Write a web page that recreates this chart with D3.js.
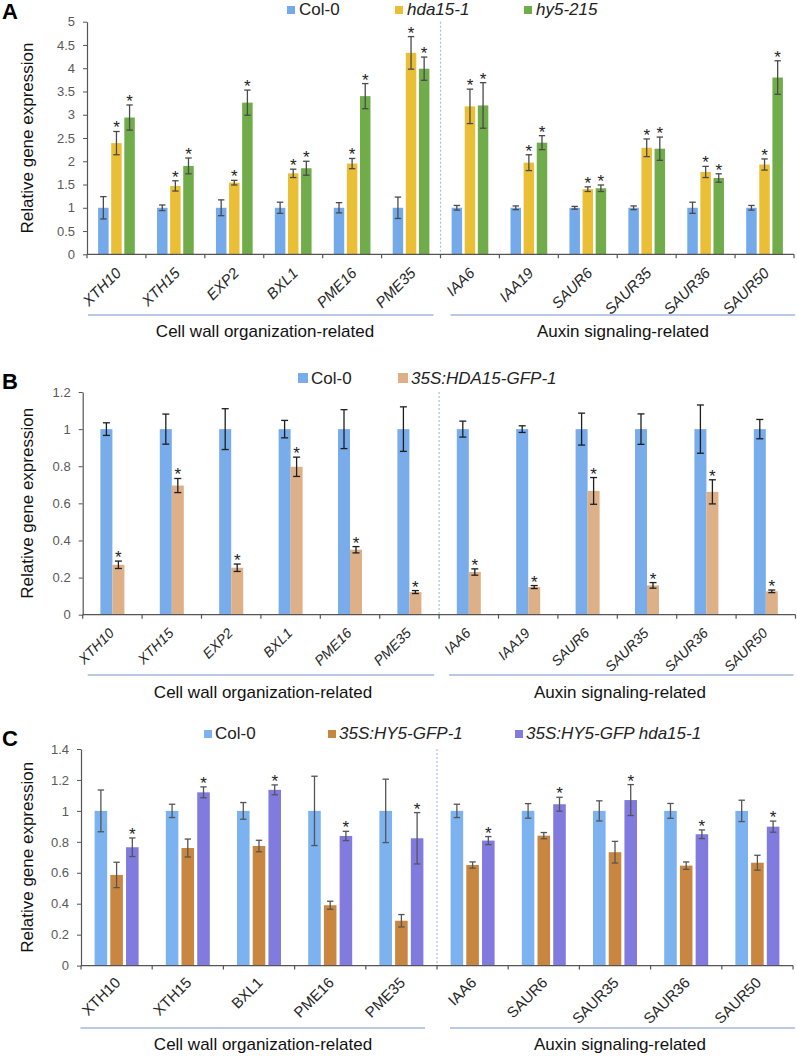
<!DOCTYPE html>
<html>
<head>
<meta charset="utf-8">
<script src="https://cdn.jsdelivr.net/npm/d3@7"></script>
<style>
  body { margin: 0; background: #fff; }
  svg { font-family: "Liberation Sans", Arial, sans-serif; display: block; }
</style>
</head>
<body>
<svg id="drawing_region"></svg>
<script>
// genes (x categories)
const genesAB = ['XTH10','XTH15','EXP2','BXL1','PME16','PME35','IAA6','IAA19','SAUR6','SAUR35','SAUR36','SAUR50'];
const genesC  = ['XTH10','XTH15','BXL1','PME16','PME35','IAA6','SAUR6','SAUR35','SAUR36','SAUR50'];
const groupNames = ['Cell wall organization-related', 'Auxin signaling-related'];

// panel A
const colA      = [1,1,1,1,1,1,1,1,1,1,1,1];
const colA_err  = [0.24,0.06,0.17,0.12,0.11,0.23,0.05,0.04,0.03,0.04,0.12,0.05];
const hda       = [2.39,1.47,1.54,1.74,1.95,4.33,3.18,1.97,1.40,2.29,1.77,1.93];
const hda_err   = [0.25,0.11,0.05,0.09,0.11,0.35,0.37,0.17,0.05,0.19,0.12,0.12];
const hy5       = [2.94,1.90,3.26,1.85,3.40,3.99,3.20,2.40,1.42,2.27,1.64,3.80];
const hy5_err   = [0.27,0.17,0.27,0.15,0.27,0.25,0.49,0.15,0.07,0.25,0.09,0.36];
const ticksA    = [0,0.5,1,1.5,2,2.5,3,3.5,4,4.5,5];

// panel B
const colB      = [1,1,1,1,1,1,1,1,1,1,1,1];
const colB_err  = [0.034,0.081,0.11,0.047,0.105,0.12,0.043,0.018,0.086,0.082,0.13,0.052];
const hdaOE     = [0.269,0.696,0.253,0.797,0.35,0.122,0.23,0.149,0.667,0.158,0.662,0.126];
const hdaOE_err = [0.02,0.038,0.02,0.052,0.017,0.008,0.017,0.008,0.072,0.015,0.065,0.007];
const ticksB    = [0,0.2,0.4,0.6,0.8,1,1.2];

// panel C
const colC       = [1,1,1,1,1,1,1,1,1,1];
const colC_err   = [0.135,0.043,0.054,0.224,0.205,0.043,0.047,0.065,0.048,0.069];
const hy5OE      = [0.586,0.76,0.773,0.39,0.29,0.65,0.84,0.733,0.646,0.665];
const hy5OE_err  = [0.082,0.058,0.037,0.026,0.04,0.02,0.02,0.07,0.024,0.048];
const hy5hda     = [0.765,1.12,1.136,0.838,0.823,0.808,1.043,1.07,0.849,0.898];
const hy5hda_err = [0.06,0.035,0.032,0.03,0.166,0.026,0.045,0.1,0.028,0.036];
const ticksC     = [0,0.2,0.4,0.6,0.8,1,1.2,1.4];

const svg = d3.select('#drawing_region')
    .attr('width', 797)
    .attr('height', 1056);

class GroupedBarChart {

    constructor( config, data ) {
        this.config = config;
        this.data = data;
        this.init();
    }

    init() {
        let self = this;
        let c = self.config;

        self.chart = svg.append('g');

        self.xscale = d3.scaleBand()
            .domain(self.data.genes)
            .range([c.left, c.right])
            .padding(0);

        self.inner = d3.scaleBand()
            .domain(self.data.series.map(s => s.name))
            .range([0, c.groupWidth])
            .paddingInner(c.innerPad);

        self.offset = (self.xscale.bandwidth() - c.groupWidth) / 2;

        self.yscale = d3.scaleLinear()
            .domain([0, d3.max(self.data.ticks)])
            .range([c.bottom, c.top]);

        self.yaxis = d3.axisLeft(self.yscale)
            .tickValues(self.data.ticks)
            .tickFormat(d => String(+d.toFixed(1)))
            .tickSize(4)
            .tickSizeOuter(0)
            .tickPadding(8);
    }

    render() {
        let self = this;
        let c = self.config;
        let x = self.xscale, y = self.yscale;
        let bw = self.inner.bandwidth();

        // divider
        let xd = x(self.data.genes[c.split]);
        self.chart.append('line')
            .attr('x1', xd).attr('x2', xd)
            .attr('y1', c.top).attr('y2', c.bottom)
            .attr('stroke', '#a9bfdf')
            .attr('stroke-width', 1.2)
            .attr('stroke-dasharray', '2,2');

        // bars
        self.data.series.forEach(s => {
            self.chart.selectAll(null)
                .data(s.values)
                .enter()
                .append('rect')
                .attr('x', (d, i) => x(self.data.genes[i]) + self.offset + self.inner(s.name))
                .attr('y', d => y(d))
                .attr('width', bw)
                .attr('height', d => y(0) - y(d))
                .attr('fill', s.color);
        });

        // error bars and stars
        self.data.series.forEach(s => {
            s.values.forEach((v, i) => {
                let cx = x(self.data.genes[i]) + self.offset + self.inner(s.name) + bw / 2;
                let e = s.errors[i];
                let g = self.chart.append('g')
                    .attr('stroke', c.errColor)
                    .attr('stroke-width', 1.3);
                g.append('line').attr('x1', cx).attr('x2', cx).attr('y1', y(v - e)).attr('y2', y(v + e));
                g.append('line').attr('x1', cx - c.cap).attr('x2', cx + c.cap).attr('y1', y(v - e)).attr('y2', y(v - e));
                g.append('line').attr('x1', cx - c.cap).attr('x2', cx + c.cap).attr('y1', y(v + e)).attr('y2', y(v + e));
                if (s.star) {
                    self.chart.append('text')
                        .attr('x', cx)
                        .attr('y', y(v + e) + 2)
                        .attr('text-anchor', 'middle')
                        .attr('font-size', '17px')
                        .attr('fill', '#222')
                        .text('*');
                }
            });
        });

        // y axis
        let ya = self.chart.append('g')
            .attr('transform', `translate(${c.left}, 0)`)
            .call(self.yaxis);
        ya.select('.domain').attr('stroke', '#555').attr('stroke-width', 1.2);
        ya.selectAll('.tick line').attr('stroke', '#555');
        ya.selectAll('.tick text')
            .attr('font-size', '13px')
            .attr('font-family', '"Liberation Sans", Arial, sans-serif')
            .attr('fill', '#595959');

        // x axis line and boundary ticks
        self.chart.append('line')
            .attr('x1', c.left).attr('x2', c.right)
            .attr('y1', c.bottom).attr('y2', c.bottom)
            .attr('stroke', '#555').attr('stroke-width', 1.2);
        let bounds = self.data.genes.map(g => x(g)).concat([c.right]);
        self.chart.selectAll(null)
            .data(bounds)
            .enter()
            .append('line')
            .attr('x1', d => d).attr('x2', d => d)
            .attr('y1', c.bottom).attr('y2', c.bottom + 4)
            .attr('stroke', '#555').attr('stroke-width', 1.2);

        // x labels
        self.chart.selectAll(null)
            .data(self.data.genes)
            .enter()
            .append('text')
            .attr('transform', d => `translate(${x(d) + x.bandwidth() / 2 + c.labelDx}, ${c.bottom + c.labelDy}) rotate(-45)`)
            .attr('text-anchor', 'end')
            .attr('font-size', c.labelSize + 'px')
            .attr('font-style', c.labelItalic ? 'italic' : 'normal')
            .attr('fill', '#262626')
            .text(d => d);

        // group lines and names
        let xEnd = x.range()[1];
        let lines = [
            [c.left + c.gl[0], xd - c.gl[1]],
            [xd + c.gl[2], xEnd + c.gl[3]]
        ];
        lines.forEach((l, i) => {
            self.chart.append('line')
                .attr('x1', l[0]).attr('x2', l[1])
                .attr('y1', c.groupY).attr('y2', c.groupY)
                .attr('stroke', '#a3b9dc').attr('stroke-width', 1.6);
            self.chart.append('text')
                .attr('x', c.groupTextX[i])
                .attr('y', c.groupTextY)
                .attr('text-anchor', 'middle')
                .attr('font-size', '17px')
                .attr('fill', '#111')
                .text(groupNames[i]);
        });

        // y label
        self.chart.append('text')
            .attr('transform', `translate(33, ${(c.top + c.bottom) / 2}) rotate(-90)`)
            .attr('text-anchor', 'middle')
            .attr('font-size', '17px')
            .attr('fill', '#111')
            .text('Relative gene expression');

        // panel letter
        self.chart.append('text')
            .attr('x', 2)
            .attr('y', c.letterY)
            .attr('font-size', '22px')
            .attr('font-weight', 'bold')
            .attr('fill', '#000')
            .text(c.letter);

        // legend
        self.data.series.forEach((s, i) => {
            self.chart.append('rect')
                .attr('x', c.legendX[i])
                .attr('y', c.legendY - c.legendSq - 1)
                .attr('width', c.legendSq)
                .attr('height', c.legendSq)
                .attr('fill', s.color);
            self.chart.append('text')
                .attr('x', c.legendX[i] + c.legendSq + c.legendGap)
                .attr('y', c.legendY)
                .attr('font-size', '17px')
                .attr('font-style', s.italic ? 'italic' : 'normal')
                .attr('fill', '#222')
                .text(s.name);
        });
    }
}

let chartA = new GroupedBarChart({
    letter: 'A', letterY: 19,
    left: 87, right: 794, top: 21.7, bottom: 254.3,
    groupWidth: 36.7, innerPad: 0.2, split: 6,
    cap: 3.2, errColor: '#4a4a4a',
    labelDx: 5.6, labelDy: 19.7, labelSize: 15, labelItalic: true,
    gl: [1, 7, 10, 1], groupY: 315, groupTextY: 337, groupTextX: [265, 623],
    legendX: [287, 395, 524], legendY: 15, legendSq: 8, legendGap: 4
}, {
    genes: genesAB, ticks: ticksA,
    series: [
        { name: 'Col-0', italic: false, color: '#74a9ea', values: colA, errors: colA_err, star: false },
        { name: 'hda15-1', italic: true, color: '#ebbf35', values: hda, errors: hda_err, star: true },
        { name: 'hy5-215', italic: true, color: '#71ac4b', values: hy5, errors: hy5_err, star: true }
    ]
});
chartA.render();

let chartB = new GroupedBarChart({
    letter: 'B', letterY: 389,
    left: 82.7, right: 795.5, top: 392, bottom: 614.7,
    groupWidth: 24, innerPad: 0, split: 6,
    cap: 3.5, errColor: '#1e1e1e',
    labelDx: 2.6, labelDy: 19.4, labelSize: 14, labelItalic: true,
    gl: [5, 5, 10, -2], groupY: 675, groupTextY: 698, groupTextX: [263, 620],
    legendX: [298, 398], legendY: 384, legendSq: 10, legendGap: 3
}, {
    genes: genesAB, ticks: ticksB,
    series: [
        { name: 'Col-0', italic: false, color: '#78aceb', values: colB, errors: colB_err, star: false },
        { name: '35S:HDA15-GFP-1', italic: true, color: '#ddb088', values: hdaOE, errors: hdaOE_err, star: true }
    ]
});
chartB.render();

let chartC = new GroupedBarChart({
    letter: 'C', letterY: 746,
    left: 81, right: 793, top: 749, bottom: 965.6,
    groupWidth: 44, innerPad: 0.2, split: 5,
    cap: 3.2, errColor: '#555',
    labelDx: 4.7, labelDy: 18, labelSize: 15, labelItalic: false,
    gl: [-0.5, 12, 13, 2], groupY: 1028, groupTextY: 1050, groupTextX: [263, 620],
    legendX: [204, 328, 515], legendY: 739, legendSq: 8, legendGap: 3
}, {
    genes: genesC, ticks: ticksC,
    series: [
        { name: 'Col-0', italic: false, color: '#7bb2ef', values: colC, errors: colC_err, star: false },
        { name: '35S:HY5-GFP-1', italic: true, color: '#c98640', values: hy5OE, errors: hy5OE_err, star: false },
        { name: '35S:HY5-GFP hda15-1', italic: true, color: '#817be0', values: hy5hda, errors: hy5hda_err, star: true }
    ]
});
chartC.render();
</script>
</body>
</html>
